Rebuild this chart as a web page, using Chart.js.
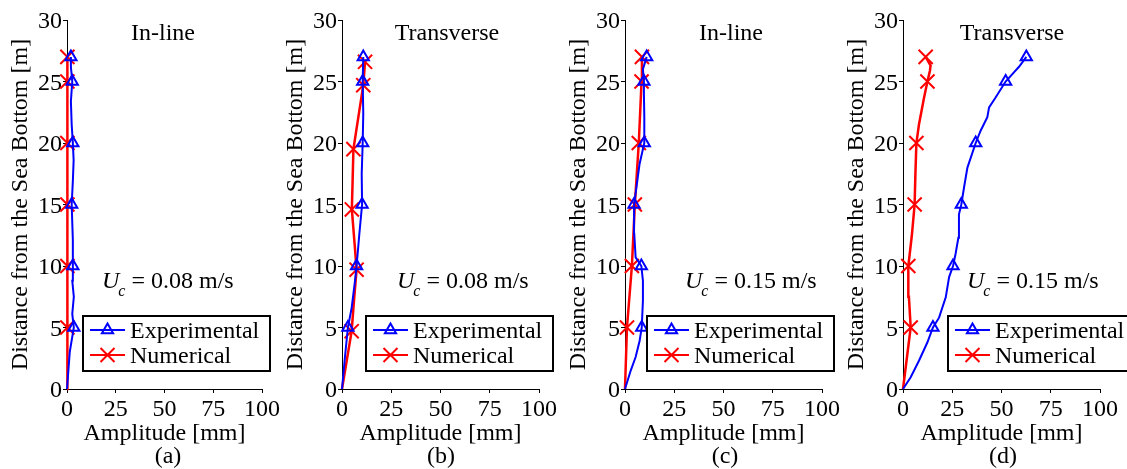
<!DOCTYPE html>
<html>
<head>
<meta charset="utf-8">
<script src="https://cdn.jsdelivr.net/npm/chart.js@4.4.0/dist/chart.umd.min.js"></script>
<style>
  body { margin: 0; background: #fff; }
  #wrap { position: relative; width: 1127px; height: 469px; overflow: hidden; }
  canvas { position: absolute; top: 0; }
</style>
</head>
<body>
<div id="wrap">
  <canvas id="c0" width="282" height="469" style="left:0px"></canvas>
  <canvas id="c1" width="282" height="469" style="left:280px"></canvas>
  <canvas id="c2" width="282" height="469" style="left:560px"></canvas>
  <canvas id="c3" width="287" height="469" style="left:840px"></canvas>
</div>
<script>
// --- DATA (depth in m, amplitude in mm) ---
const xTicks = [0, 25, 50, 75, 100];
const yTicks = [0, 5, 10, 15, 20, 25, 30];
const markDepths = [5, 10, 15, 20, 25, 27];

// (a) In-line, Uc = 0.08
const expDepthA = [0, 3, 5, 6.1, 7.5, 8.8, 10, 12.1, 15, 16.9, 18.6, 20, 21.5, 23.4, 25, 26.2, 27];
const expAmpA   = [0, 1.4, 3.5, 2.7, 3.5, 2.7, 3.0, 3.0, 2.4, 3.0, 3.4, 3.0, 2.4, 2.0, 2.7, 2.0, 2.0];
const numDepthA = [0, 5, 10, 15, 20, 25, 27];
const numAmpA   = [0, 0.2, 0.2, 0.2, 0.2, 0.2, 0.2];

// (b) Transverse, Uc = 0.08
const expDepthB = [0, 2.6, 5, 6.6, 8.8, 10, 12.6, 15, 17.5, 20, 22.4, 25, 27];
const expAmpB   = [0, 1.5, 3.0, 4.9, 6.6, 7.4, 8.8, 10.2, 10.0, 10.5, 10.8, 10.5, 10.8];
const numDepthB = [0, 4.7, 7.2, 9.7, 11.8, 14.6, 17, 19.5, 24.7, 26.6];
const numAmpB   = [0, 4.9, 6.1, 7.4, 6.4, 5.0, 5.4, 5.8, 10.8, 11.7];
const numMarksB = [4.7, 9.7, 14.6, 19.5, 24.7, 26.6];

// (c) In-line, Uc = 0.15
const expDepthC = [0, 1.5, 2.6, 3.9, 5, 7.2, 8.8, 10, 10.7, 12.6, 15, 16.4, 18.3, 20, 22.1, 24, 25, 26, 27];
const expAmpC   = [0, 2.9, 5.4, 7.4, 8.5, 9.1, 9.1, 8.3, 5.4, 4.7, 4.6, 5.8, 7.4, 9.8, 9.8, 9.6, 9.6, 9.1, 11.0];
const numDepthC = [0, 5, 10, 15, 20, 25, 27];
const numAmpC   = [0, 1.0, 3.5, 5.0, 7.0, 8.4, 8.6];

// (d) Transverse, Uc = 0.15
const expDepthD = [0, 0.95, 2.3, 3.8, 5, 5.8, 7.45, 9.1, 10, 11, 12.3, 14.2, 15, 16.4, 18, 20, 21, 22.1, 22.9, 23.7, 25, 25.6, 26.2, 27];
const expAmpD   = [0, 3.9, 8.1, 12.4, 15.2, 18.3, 21.7, 23.4, 25.4, 26.7, 28.1, 28.4, 29.6, 31, 32.7, 36.9, 39.4, 42.8, 43.7, 47, 52.1, 55.5, 58.9, 62.6];
const numDepthD = [0, 5, 7.5, 10, 12.5, 15, 17.5, 20, 21.5, 23.7, 25, 25.9, 26.3, 27];
const numAmpD   = [0, 3.9, 3.0, 2.7, 4.5, 5.9, 6.3, 6.8, 8.1, 10.7, 12.4, 13.7, 14.0, 11.5];

const titles = ["In-line", "Transverse", "In-line", "Transverse"];
const speeds = ["0.08", "0.08", "0.15", "0.15"];
const subLabels = ["(a)", "(b)", "(c)", "(d)"];

const FONT = '24px "Liberation Serif"';
const BLUE = '#0000ff', RED = '#ff0000';

// per panel layout: plot left/right inside its canvas and text offsets from plot left
const layouts = [
  { left: 67, right: 264, titleX: 96,  subX: 101, ucX: 35, legX: 16 },
  { left: 62, right: 259, titleX: 105, subX: 99,  ucX: 55, legX: 24 },
  { left: 65, right: 262, titleX: 106, subX: 100, ucX: 60, legX: 22 },
  { left: 63, right: 260, titleX: 109, subX: 100, ucX: 64, legX: 45 },
];

const series = [
  [expDepthA, expAmpA, numDepthA, numAmpA, markDepths],
  [expDepthB, expAmpB, numDepthB, numAmpB, numMarksB],
  [expDepthC, expAmpC, numDepthC, numAmpC, markDepths],
  [expDepthD, expAmpD, numDepthD, numAmpD, markDepths],
];

function pts(depth, amp) { return depth.map((d, i) => ({ x: amp[i], y: d })); }

// --- text decorations + legend ---
const deco = {
  id: 'deco',
  afterDraw(chart, args, o) {
    const { ctx, chartArea: a } = chart;
    ctx.save();
    ctx.fillStyle = '#000';
    ctx.textBaseline = 'alphabetic';
    ctx.font = FONT;
    ctx.textAlign = 'center';
    ctx.fillText(o.title, a.left + o.titleX, 40);
    ctx.fillText(o.sub, a.left + o.subX, 463);

    // U_c = ... m/s
    ctx.textAlign = 'left';
    let x = a.left + o.ucX;
    ctx.font = 'italic 24px "Liberation Serif"';
    ctx.fillText('U', x, 288);
    x += ctx.measureText('U').width - 1;
    ctx.font = 'italic 16px "Liberation Serif"';
    ctx.fillText('c', x, 296);
    x += ctx.measureText('c').width;
    ctx.font = FONT;
    ctx.fillText(' = ' + o.speed + ' m/s', x, 288);

    // legend box
    const lx = a.left + o.legX;
    ctx.fillStyle = '#fff';
    ctx.fillRect(lx, 316, 187, 55);
    ctx.strokeStyle = '#000';
    ctx.lineWidth = 2;
    ctx.strokeRect(lx, 316, 187, 55);
    const rows = [
      { text: 'Experimental', color: BLUE, y: 330, marker: 'tri' },
      { text: 'Numerical', color: RED, y: 355, marker: 'x' },
    ];
    rows.forEach(r => {
      ctx.strokeStyle = r.color;
      ctx.lineWidth = 2;
      ctx.beginPath();
      ctx.moveTo(lx + 7, r.y);
      ctx.lineTo(lx + 42, r.y);
      ctx.stroke();
      const mx = lx + 24.5;
      ctx.beginPath();
      if (r.marker === 'tri') {
        ctx.moveTo(mx, r.y - 6.5);
        ctx.lineTo(mx + 5.6, r.y + 3.25);
        ctx.lineTo(mx - 5.6, r.y + 3.25);
        ctx.closePath();
      } else {
        ctx.moveTo(mx - 7, r.y - 7); ctx.lineTo(mx + 7, r.y + 7);
        ctx.moveTo(mx + 7, r.y - 7); ctx.lineTo(mx - 7, r.y + 7);
      }
      ctx.stroke();
      ctx.fillStyle = '#000';
      ctx.font = FONT;
      ctx.fillText(r.text, lx + 47, r.y + 7.5);
    });
    ctx.restore();
  }
};

function makePanel(i) {
  const L = layouts[i];
  const [eD, eA, nD, nA, nMarks] = series[i];
  const canvas = document.getElementById('c' + i);
  const W = canvas.width;
  new Chart(canvas, {
    type: 'scatter',
    data: {
      datasets: [
        {
          label: 'Numerical',
          data: pts(nD, nA),
          showLine: true,
          borderColor: RED,
          borderWidth: 2.5,
          pointStyle: 'crossRot',
          pointRadius: ctx => nMarks.includes(nD[ctx.dataIndex]) ? 10 : 0,
          pointBorderColor: RED,
          pointBorderWidth: 2,
          pointHoverRadius: 0,
          clip: false,
          order: 2
        },
        {
          label: 'Experimental',
          data: pts(eD, eA),
          showLine: true,
          borderColor: BLUE,
          borderWidth: 2,
          pointStyle: 'triangle',
          pointRadius: ctx => markDepths.includes(eD[ctx.dataIndex]) ? 6.5 : 0,
          pointBorderColor: BLUE,
          pointBackgroundColor: 'rgba(0,0,0,0)',
          pointBorderWidth: 2,
          pointHoverRadius: 0,
          clip: false,
          order: 1
        }
      ]
    },
    options: {
      responsive: false,
      animation: false,
      events: [],
      layout: { padding: { left: 0, right: W - L.right, top: 20, bottom: 0 } },
      plugins: {
        legend: { display: false },
        tooltip: { enabled: false },
        deco: { title: titles[i], sub: subLabels[i], speed: speeds[i], titleX: L.titleX, subX: L.subX, ucX: L.ucX, legX: L.legX }
      },
      scales: {
        x: {
          type: 'linear', min: 0, max: 100,
          afterFit: s => { s.height = 469 - 389; },
          afterBuildTicks: s => { s.ticks = xTicks.map(v => ({ value: v })); },
          grid: { display: true, drawOnChartArea: false, drawTicks: true, tickLength: 4, color: '#000' },
          border: { display: true, color: '#000', width: 1 },
          ticks: { color: '#000', font: { family: 'Liberation Serif', size: 24 }, padding: 2, maxRotation: 0 },
          title: { display: true, text: 'Amplitude [mm]', color: '#000', font: { family: 'Liberation Serif', size: 24 }, padding: { top: 0, bottom: 20.5 } }
        },
        y: {
          type: 'linear', min: 0, max: 30,
          afterFit: s => { s.width = L.left; },
          afterBuildTicks: s => { s.ticks = yTicks.map(v => ({ value: v })); },
          grid: { display: true, drawOnChartArea: false, drawTicks: true, tickLength: 4, color: '#000' },
          border: { display: true, color: '#000', width: 1 },
          ticks: { color: '#000', font: { family: 'Liberation Serif', size: 24 }, padding: 1, labelOffset: 2 },
          title: { display: true, text: 'Distance from the Sea Bottom [m]', color: '#000', font: { family: 'Liberation Serif', size: 24 }, padding: { top: L.left - 46 - 14.4, bottom: 0 } }
        }
      }
    },
    plugins: [deco]
  });
}

for (let i = 0; i < 4; i++) makePanel(i);
</script>
</body>
</html>
